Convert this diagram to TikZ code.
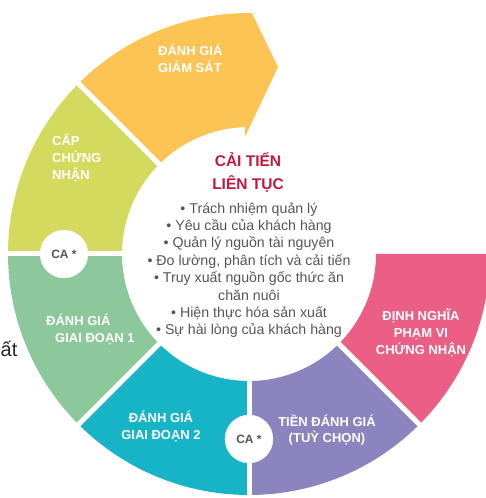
\documentclass[tikz,border=0pt]{standalone}
\usepackage{fontspec}
\setmainfont{Liberation Sans}
\usetikzlibrary{calc, positioning}
\definecolor{ringyellow}{RGB}{251,196,85}
\definecolor{ringlime}{RGB}{211,218,94}
\definecolor{ringgreen}{RGB}{140,200,155}
\definecolor{ringteal}{RGB}{22,180,198}
\definecolor{ringpurple}{RGB}{140,132,190}
\definecolor{ringpink}{RGB}{235,95,132}
\definecolor{titlered}{RGB}{192,24,62}
\definecolor{textgray}{RGB}{85,85,85}

\begin{document}
\begin{tikzpicture}[
  x=1pt, y=1pt,
  seglabel/.style={text=white, inner sep=0pt,
    font=\fontsize{13}{17}\selectfont\bfseries},
  title/.style={text=titlered, align=center, inner sep=0pt,
    font=\fontsize{15.5}{23}\selectfont\bfseries},
  items/.style={text=textgray, align=center, inner sep=0pt,
    font=\fontsize{14.2}{17.4}\selectfont},
  cabubble/.style={circle, fill=white, draw=gray!12, minimum size=48pt,
    inner sep=0pt, text=textgray, font=\fontsize{12}{14}\selectfont\bfseries},
  gap/.style={white, line width=5pt}
]
\useasboundingbox (0,0) rectangle (485,498);
\coordinate (C) at (249,244);

\fill[ringyellow] ($(C)+(135:241)$) arc[start angle=135, end angle=89.3, radius=241pt]
  -- (278,431) -- (245,361) -- ($(C)+(91.8:127)$)
  arc[start angle=91.8, end angle=135, radius=127pt] -- cycle;
\foreach \a/\b/\col in {135/180/ringlime, 180/225/ringgreen, 225/270/ringteal,
                        270/315/ringpurple, 315/360/ringpink}
  \fill[\col] ($(C)+(\a:241)$) arc[start angle=\a, end angle=\b, radius=241pt]
    -- ($(C)+(\b:127)$) arc[start angle=\b, end angle=\a, radius=127pt] -- cycle;
\foreach \a in {135,180,225,270,315}
  \draw[gap] ($(C)+(\a:124)$) -- ($(C)+(\a:245)$);

\node[cabubble] (caleft) at ($(C)+(180:185)$) {CA *};
\node[cabubble] (cabottom) at ($(C)+(270:185)$) {CA *};

\node[seglabel, align=left, anchor=base west] (monitor) at (158,425) {ĐÁNH GIÁ\\GIÁM SÁT};
\node[seglabel, align=left, anchor=base west] (certify) at (52,318) {CẤP\\CHỨNG\\NHẬN};
\node[seglabel, align=left, anchor=base west] (stage1) at (46,155) {ĐÁNH GIÁ\\\hspace*{9pt}GIAI ĐOẠN 1};
\node[seglabel, align=center, anchor=base] (stage2) at (161,58) {ĐÁNH GIÁ\\GIAI ĐOẠN 2};
\node[seglabel, align=center, anchor=base] (preaudit) at (327,55) {TIỀN ĐÁNH GIÁ\\(TUỲ CHỌN)};
\node[seglabel, align=center, anchor=base] (scope) at (421,143) {ĐỊNH NGHĨA\\PHẠM VI\\CHỨNG NHẬN};

\node[title, anchor=base] (improve) at (248,308) {CẢI TIẾN\\LIÊN TỤC};
\node[items, anchor=base] (itemlist) at (249,163) {• Trách nhiệm quản lý\\• Yêu cầu của khách hàng\\• Quản lý nguồn tài nguyên\\• Đo lường, phân tích và cải tiến\\• Truy xuất nguồn gốc thức ăn\\chăn nuôi\\• Hiện thực hóa sản xuất\\• Sự hài lòng của khách hàng};

\node[anchor=base west, inner sep=0pt, text=black!85, font=\fontsize{20}{22}\selectfont] (cutword) at (0.5,141) {ất};
\end{tikzpicture}
\end{document}
